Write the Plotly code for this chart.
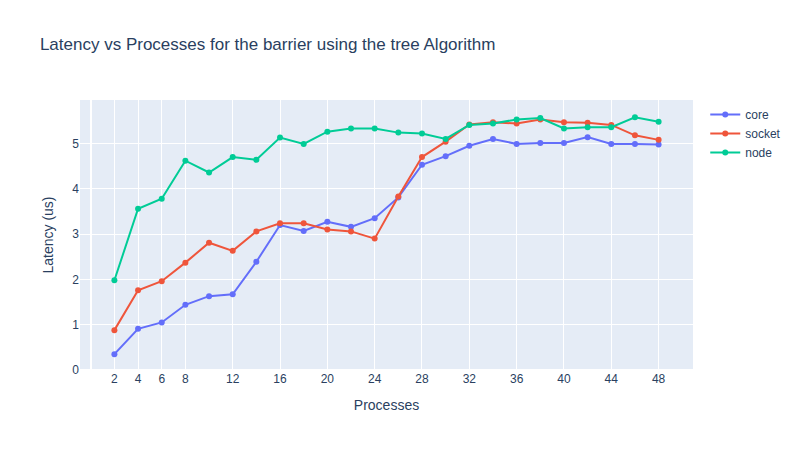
import plotly.graph_objects as go

processes = list(range(2, 50, 2))
core = [0.35, 0.91, 1.05, 1.44, 1.63, 1.67, 2.39, 3.20, 3.07, 3.27, 3.16, 3.35,
        3.81, 4.53, 4.72, 4.95, 5.10, 4.99, 5.01, 5.01, 5.14, 4.99, 4.99, 4.98]
socket = [0.88, 1.76, 1.96, 2.37, 2.81, 2.63, 3.06, 3.24, 3.24, 3.10, 3.06, 2.90,
          3.83, 4.70, 5.04, 5.42, 5.47, 5.44, 5.53, 5.47, 5.46, 5.41, 5.18, 5.08]
node = [1.98, 3.56, 3.78, 4.62, 4.36, 4.70, 4.64, 5.13, 4.99, 5.26, 5.33, 5.33,
        5.24, 5.22, 5.10, 5.41, 5.44, 5.53, 5.56, 5.33, 5.36, 5.36, 5.58, 5.48]
tick_vals = [2, 4, 6, 8, 12, 16, 20, 24, 28, 32, 36, 40, 44, 48]

fig = go.Figure()
for name, vals in [("core", core), ("socket", socket), ("node", node)]:
    fig.add_trace(go.Scatter(x=processes, y=vals, mode="lines+markers", name=name))

fig.update_layout(
    width=798, height=450,
    font=dict(family="Liberation Sans, Arial, sans-serif"),
    title=dict(text="Latency vs Processes for the barrier using the tree Algorithm"),
    xaxis=dict(title=dict(text="Processes"), tickvals=tick_vals),
    yaxis=dict(title=dict(text="Latency (us)"), range=[0, 5.96]),
)
fig.write_html("out.html")
